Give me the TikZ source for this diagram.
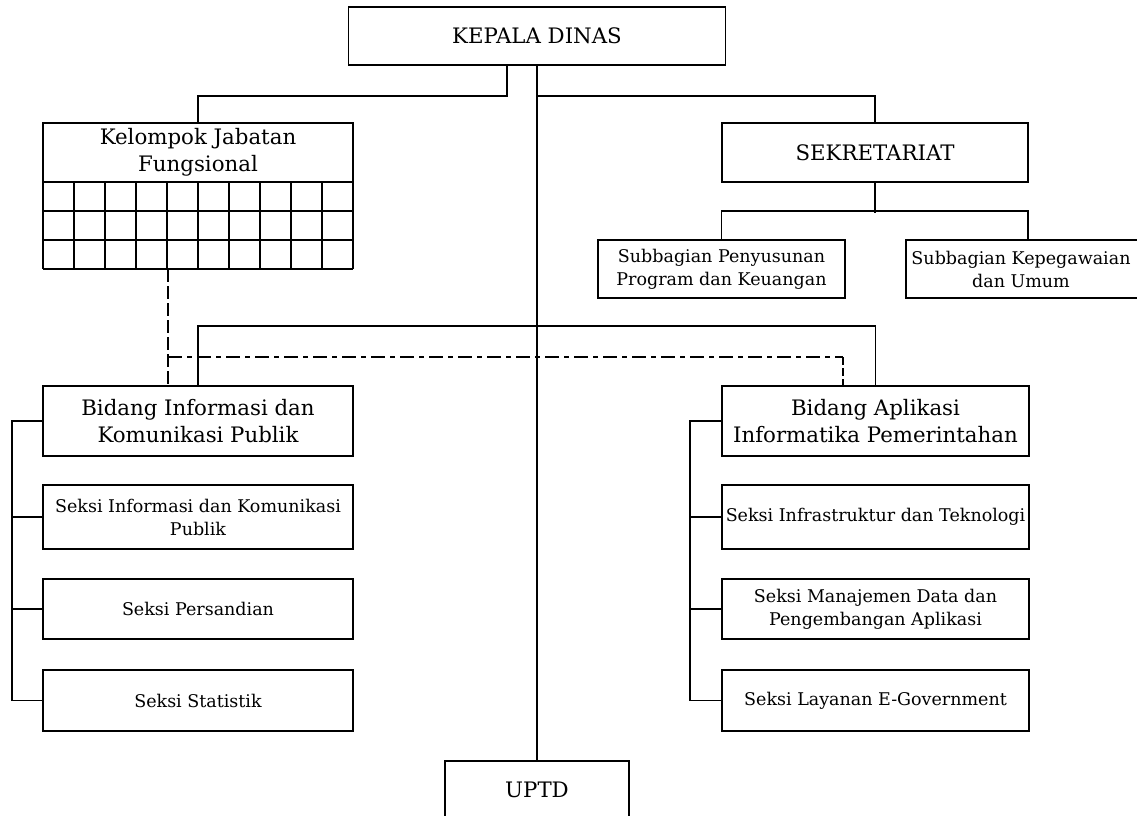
\documentclass[tikz,border=0pt]{standalone}
\usepackage{fontspec}
\setmainfont{DejaVu Serif}
\usetikzlibrary{calc}
\tikzset{
  box/.style={draw, line width=1.9pt, align=center, inner sep=0pt, fill=white},
  bigtxt/.style={font=\fontsize{21.3}{27}\selectfont},
  smalltxt/.style={font=\fontsize{17.5}{23}\selectfont},
  conn/.style={line width=1.9pt},
  dashv/.style={line width=1.9pt, dash pattern=on 13pt off 4pt},
  dashdot/.style={line width=1.9pt, dash pattern=on 14pt off 5pt on 5pt off 5pt},
  dashs/.style={line width=1.9pt, dash pattern=on 8pt off 3pt},
}
\begin{document}
\begin{tikzpicture}[x=1pt,y=-1pt]
\useasboundingbox (0,0) rectangle (1137,815);
\clip (0,0) rectangle (1137,815);
\fill[white] (0,0) rectangle (1137,815);

% nodes
\node[box,bigtxt,minimum width=377pt,minimum height=58pt] (kd) at (537,36) {KEPALA DINAS};
\node[box,bigtxt,minimum width=310pt,minimum height=59pt] (kjf) at (198,152.5) {Kelompok Jabatan\\Fungsional};
\node[box,bigtxt,minimum width=306pt,minimum height=59pt] (sek) at (875,152.5) {SEKRETARIAT};
\node[box,smalltxt,minimum width=247pt,minimum height=58pt] (sp) at (721.5,269) {Subbagian Penyusunan\\Program dan Keuangan};
\node[box,minimum width=244pt,minimum height=58pt] (sk) at (1028,269) {};
\node[smalltxt,align=center,inner sep=0pt] (sktxt) at (1021,269) {Subbagian Kepegawaian\\dan Umum};

\node[box,bigtxt,minimum width=310pt,minimum height=70pt] (bidA) at (198,421) {Bidang Informasi dan\\Komunikasi Publik};
\node[box,bigtxt,minimum width=307pt,minimum height=70pt] (bidB) at (875.5,421) {Bidang Aplikasi\\Informatika Pemerintahan};

\node[box,smalltxt,minimum width=310pt,minimum height=64pt] (sa1) at (198,517) {Seksi Informasi dan Komunikasi\\Publik};
\node[box,smalltxt,minimum width=310pt,minimum height=60pt] (sa2) at (198,609) {Seksi Persandian};
\node[box,smalltxt,minimum width=310pt,minimum height=61pt] (sa3) at (198,700.5) {Seksi Statistik};

\node[box,smalltxt,minimum width=307pt,minimum height=64pt] (sb1) at (875.5,517) {Seksi Infrastruktur dan Teknologi};
\node[box,smalltxt,minimum width=307pt,minimum height=60pt] (sb2) at (875.5,609) {Seksi Manajemen Data dan\\Pengembangan Aplikasi};
\node[box,smalltxt,minimum width=307pt,minimum height=61pt] (sb3) at (875.5,700.5) {Seksi Layanan E-Government};

\node[box,bigtxt,minimum width=184pt,minimum height=58pt] (uptd) at (537,790) {UPTD};

% grid under Kelompok Jabatan Fungsional
\foreach \r in {211,240,269} \draw[conn] (43,\r) -- (353,\r);
\foreach \i in {0,...,10} \draw[conn] (43+31*\i,182) -- (43+31*\i,269);
\coordinate (gridbot) at (168,269);
\coordinate (fnR) at (843,357);

% connectors from KEPALA DINAS
\draw[conn] ([xshift=-30pt]kd.south) -- ++(0,30) -| (kjf.north);
\draw[conn] (kd.south) -- (uptd.north);
\draw[conn] ($(kd.south)+(0,30)$) -| (sek.north);

% sekretariat
\draw[conn] (sek.south) -- ++(0,30);
\draw[conn] (sp.north) -- ++(0,-28) -| (sk.north);

% bidang
\draw[conn] (bidA.north) -- ++(0,-59) -| (bidB.north);

% functional dashed lines
\draw[dashv] (gridbot) -- (gridbot |- bidA.north);
\draw[dashdot] (gridbot |- fnR) -- (fnR);
\draw[dashs] (fnR) -- (fnR |- bidB.north);

% left bracket
\draw[conn] (bidA.west) -- ++(-30,0) |- (sa3.west);
\draw[conn] (sa1.west) -- ++(-30,0);
\draw[conn] (sa2.west) -- ++(-30,0);

% right bracket
\draw[conn] (bidB.west) -- ++(-31,0) |- (sb3.west);
\draw[conn] (sb1.west) -- ++(-31,0);
\draw[conn] (sb2.west) -- ++(-31,0);
\end{tikzpicture}
\end{document}
